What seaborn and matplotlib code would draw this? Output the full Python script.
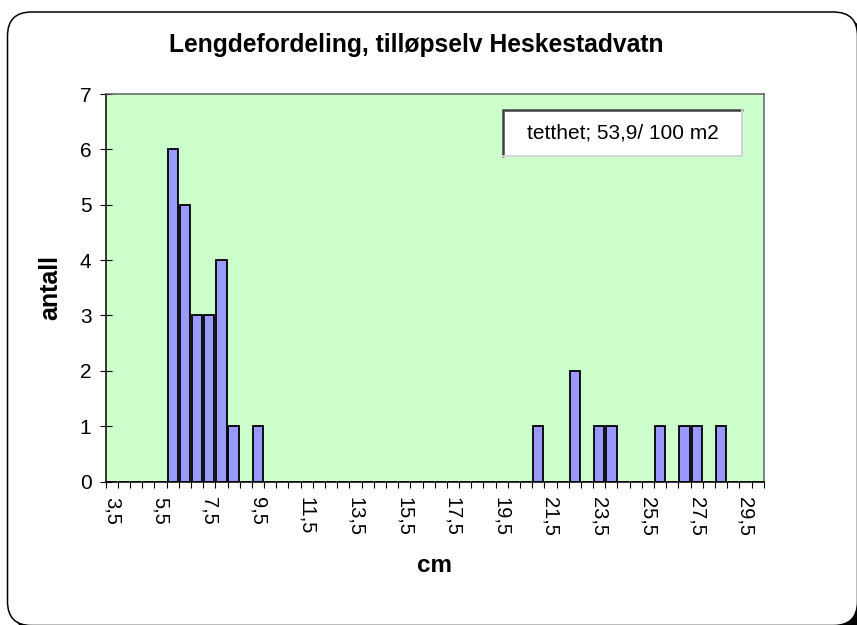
import matplotlib
matplotlib.use('Agg')
import matplotlib.pyplot as plt
from matplotlib.patches import FancyBboxPatch, Rectangle
from matplotlib.transforms import IdentityTransform
import seaborn as sns
import pandas as pd

# length classes (cm) and number of fish in each class
lengths = [3.5, 4.0, 4.5, 5.0, 5.5, 6.0, 6.5, 7.0, 7.5, 8.0,
           8.5, 9.0, 9.5, 10.0, 10.5, 11.0, 11.5, 12.0, 12.5, 13.0,
           13.5, 14.0, 14.5, 15.0, 15.5, 16.0, 16.5, 17.0, 17.5, 18.0,
           18.5, 19.0, 19.5, 20.0, 20.5, 21.0, 21.5, 22.0, 22.5, 23.0,
           23.5, 24.0, 24.5, 25.0, 25.5, 26.0, 26.5, 27.0, 27.5, 28.0,
           28.5, 29.0, 29.5, 30.0]
counts = [0, 0, 0, 0, 0, 6, 5, 3, 3, 4,
          1, 0, 1, 0, 0, 0, 0, 0, 0, 0,
          0, 0, 0, 0, 0, 0, 0, 0, 0, 0,
          0, 0, 0, 0, 0, 1, 0, 0, 2, 0,
          1, 1, 0, 0, 0, 1, 0, 1, 1, 0,
          1, 0, 0, 0]
y_ticks = [0, 1, 2, 3, 4, 5, 6, 7]

title = 'Lengdefordeling, tilløpselv Heskestadvatn'
note = 'tetthet; 53,9/ 100 m2'

sns.set_style('white')
plt.rcParams['font.family'] = ['Liberation Sans', 'DejaVu Sans']
plt.rcParams.update({'text.color': 'black', 'axes.labelcolor': 'black',
                     'xtick.color': 'black', 'ytick.color': 'black'})

labels = [f'{v:g}'.replace('.', ',') for v in lengths]
df = pd.DataFrame({'cm': labels, 'antall': counts})

W, H = 857, 625
fig = plt.figure(figsize=(W / 100, H / 100), dpi=100)

# rounded chart frame with shadow (pixel coords)
shadow = FancyBboxPatch((13.5, -6.5), 850, 613.5,
                        boxstyle='round,pad=0,rounding_size=24',
                        transform=IdentityTransform(), fc='black', ec='none', zorder=0)
frame = FancyBboxPatch((7.5, -0.5), 850, 613.5,
                       boxstyle='round,pad=0,rounding_size=24',
                       transform=IdentityTransform(), fc='white', ec='black',
                       lw=1.1, zorder=1)
fig.patches.extend([shadow, frame])

ax = fig.add_axes([105.7 / W, 1 - 481.5 / H, 658 / W, 387.5 / H])
ax.set_zorder(2)
ax.set_facecolor('#CCFFCC')

sns.barplot(data=df, x='cm', y='antall', order=labels, color='#9999FF',
            saturation=1, edgecolor='black', linewidth=1.3, width=0.85, ax=ax)

ax.set_xlim(-0.5, len(labels) - 0.5)
ax.set_ylim(0, 7)
ax.set_yticks(y_ticks)
ax.set_yticklabels([str(t) for t in y_ticks], fontsize=15)

major = list(range(0, len(labels), 4))
ax.set_xticks(major)
ax.set_xticklabels([labels[i] for i in major], rotation=-90, fontsize=14.5,
                   va='top', ha='center')
ax.set_xticks([i - 0.5 for i in range(len(labels) + 1)], minor=True)
ax.tick_params(axis='x', which='major', length=0, pad=11)
ax.tick_params(axis='x', which='minor', length=4.3, width=0.8, direction='out',
               color='black', bottom=True)
ax.tick_params(axis='y', which='major', length=8.6, width=0.8, direction='inout',
               pad=6, color='black', left=True)

for side in ['left', 'bottom']:
    ax.spines[side].set_color('black')
    ax.spines[side].set_linewidth(1.1)
for side in ['top', 'right']:
    ax.spines[side].set_color('#606060')
    ax.spines[side].set_linewidth(1.1)

ax.set_xlabel('cm', fontsize=17.5, fontweight='bold')
ax.xaxis.set_label_coords(0.5, -0.218)
ax.xaxis.label.set_verticalalignment('center')
ax.set_ylabel('antall', fontsize=18, fontweight='bold')
ax.yaxis.set_label_coords(-0.0847, 0.5)
ax.yaxis.label.set_verticalalignment('center')

fig.text(416.5 / W, 1 - 45 / H, title, fontsize=17.7, fontweight='bold',
         ha='center', va='center', zorder=3)

# density note box (sunken text box)
x0, x1, y0, y1 = 0.604, 0.967, 0.84, 0.9587
ax.add_patch(Rectangle((x0, y0), x1 - x0, y1 - y0, transform=ax.transAxes,
                       fc='white', ec='none', zorder=4))
ax.plot([x0, x0, x1], [y0, y1, y1], transform=ax.transAxes, color='#404040',
        lw=1.8, zorder=5, solid_joinstyle='miter')
ax.plot([x0, x1, x1], [y0, y0, y1], transform=ax.transAxes, color='#d4d4d4',
        lw=1.4, zorder=5, solid_joinstyle='miter')
ax.text((x0 + x1) / 2, (y0 + y1) / 2, note, transform=ax.transAxes,
        fontsize=15, ha='center', va='center', zorder=6)

fig.savefig('out.png', dpi=100)
